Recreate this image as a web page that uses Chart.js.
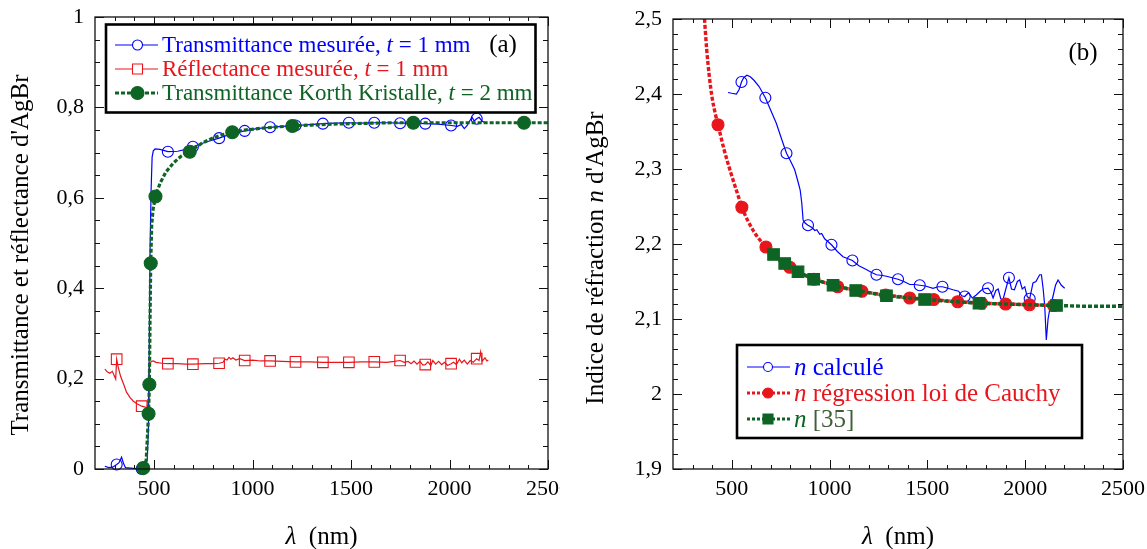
<!DOCTYPE html>
<html>
<head>
<meta charset="utf-8">
<script src="https://cdn.jsdelivr.net/npm/chart.js"></script>
<style>
  html, body { margin: 0; padding: 0; background: #fff; overflow: hidden; }
  canvas { position: absolute; top: 0; }
  #chartA { left: 0; }
  #chartB { left: 560px; }
</style>
</head>
<body>
<canvas id="chartA" width="560" height="549"></canvas>
<canvas id="chartB" width="587" height="549"></canvas>
<script>
// ---- panel (a) : transmittance / reflectance ----
const transX = [250,270,290,310,322,335,345,355,380,410,437,455,465,472,476,480,485,490,496,505,530,570,620,660,697,760,830,895,960,1020,1089,1150,1218,1290,1357,1420,1489,1550,1618,1680,1749,1810,1877,1940,2008,2040,2060,2075,2090,2105,2115,2125,2138,2150,2165,2180];
const transY = [0.006,0.003,0.004,0.010,0.014,0.026,0.012,0.003,0.002,0.001,0.000,0.004,0.02,0.10,0.30,0.50,0.62,0.69,0.704,0.708,0.707,0.702,0.703,0.707,0.713,0.723,0.732,0.742,0.748,0.753,0.756,0.758,0.760,0.762,0.764,0.765,0.766,0.765,0.766,0.766,0.765,0.765,0.764,0.763,0.760,0.758,0.762,0.753,0.760,0.772,0.778,0.770,0.775,0.778,0.770,0.766];

const reflX = [250,262,275,288,300,305,310,318,330,345,360,378,395,415,437,455,466,470,474,478,485,496,510,540,570,620,660,697,760,800,830,850,860,870,880,890,900,915,935,960,1000,1040,1089,1150,1218,1290,1357,1420,1489,1550,1618,1680,1720,1749,1770,1790,1805,1820,1835,1850,1865,1877,1890,1905,1915,1930,1945,1960,1975,1990,2008,2020,2035,2050,2062,2075,2090,2105,2120,2138,2150,2158,2165,2180,2190,2197];
const reflY = [0.221,0.215,0.212,0.216,0.204,0.199,0.243,0.225,0.205,0.188,0.170,0.158,0.150,0.144,0.139,0.137,0.136,0.150,0.210,0.232,0.238,0.239,0.236,0.234,0.233,0.233,0.232,0.232,0.233,0.233,0.234,0.236,0.243,0.241,0.247,0.243,0.246,0.241,0.244,0.240,0.241,0.239,0.239,0.238,0.237,0.237,0.236,0.236,0.236,0.237,0.237,0.236,0.238,0.240,0.236,0.238,0.233,0.239,0.232,0.238,0.230,0.231,0.237,0.229,0.240,0.232,0.238,0.231,0.236,0.229,0.233,0.236,0.231,0.243,0.235,0.241,0.232,0.240,0.236,0.244,0.240,0.259,0.238,0.246,0.239,0.241];
const measMarks = [310,437,570,697,830,960,1089,1218,1357,1489,1618,1749,1877,2008,2138];

const korthX = [445,460,472,476,480,483,488,495,507,530,560,600,640,681,740,800,850,897,960,1050,1130,1202,1300,1400,1500,1600,1700,1816,1950,2100,2250,2378,2500];
const korthY = [0.002,0.02,0.122,0.187,0.35,0.455,0.54,0.575,0.603,0.632,0.657,0.678,0.693,0.702,0.720,0.733,0.740,0.745,0.750,0.754,0.757,0.759,0.761,0.763,0.764,0.765,0.766,0.766,0.766,0.766,0.766,0.766,0.766];
const korthMarks = [445,472,476,483,507,681,897,1202,1816,2378];

// ---- panel (b) : refractive index ----
const calcX = [481,500,524,538,550,562,578,595,615,640,672,700,728,755,780,800,822,840,850,858,865,875,890,910,925,935,950,960,975,1010,1040,1069,1117,1150,1188,1215,1240,1270,1291,1320,1350,1380,1410,1435,1461,1490,1529,1555,1577,1605,1631,1660,1675,1691,1710,1730,1750,1770,1784,1810,1825,1836,1850,1862,1875,1887,1900,1917,1930,1945,1960,1972,1985,1998,2010,2023,2040,2055,2074,2083,2092,2100,2108,2117,2125,2142,2155,2168,2185,2202];
const calcY = [2.402,2.401,2.400,2.406,2.416,2.422,2.425,2.423,2.418,2.410,2.395,2.378,2.361,2.340,2.321,2.311,2.299,2.282,2.272,2.255,2.232,2.228,2.225,2.222,2.218,2.219,2.213,2.214,2.207,2.199,2.190,2.183,2.178,2.171,2.166,2.162,2.159,2.158,2.157,2.155,2.153,2.150,2.146,2.146,2.145,2.144,2.141,2.143,2.143,2.141,2.139,2.137,2.131,2.130,2.135,2.128,2.132,2.137,2.140,2.141,2.136,2.128,2.138,2.140,2.127,2.126,2.139,2.155,2.140,2.139,2.150,2.152,2.140,2.143,2.130,2.127,2.148,2.150,2.159,2.159,2.140,2.117,2.072,2.100,2.112,2.130,2.145,2.152,2.145,2.141];
const calcMarks = [550,672,780,890,1010,1117,1240,1350,1461,1577,1691,1810,1917,2023];

const cauchyX = [361,372,385,400,415,430,462,499,536,552,610,675,730,797,860,920,980,1042,1100,1165,1230,1287,1350,1410,1470,1532,1600,1655,1720,1777,1840,1900,1960,2022,2080,2145];
const cauchyY = [2.500,2.460,2.425,2.395,2.375,2.359,2.325,2.292,2.262,2.249,2.218,2.196,2.181,2.169,2.160,2.153,2.148,2.143,2.140,2.137,2.134,2.132,2.130,2.128,2.127,2.126,2.124,2.123,2.122,2.121,2.1205,2.120,2.1195,2.119,2.1185,2.118];
const cauchyMarks = [430,552,675,797,920,1042,1165,1287,1410,1532,1655,1777,1900,2022,2145];

const refX = [714,771,839,919,1018,1134,1291,1486,1764,2160,2300,2500];
const refY = [2.186,2.174,2.163,2.153,2.145,2.138,2.131,2.126,2.121,2.118,2.117,2.117];
const refMarks = [714,771,839,919,1018,1134,1291,1486,1764,2160];

// tick labels
const xTicks = [500, 1000, 1500, 2000, 2500];
const yTicksA = [0, 0.2, 0.4, 0.6, 0.8, 1];
const yTicksB = [1.9, 2.0, 2.1, 2.2, 2.3, 2.4, 2.5];

const FONT = '"Liberation Serif", "Times New Roman", serif';
const BLUE = '#0000ff', RED = 'rgb(232,22,28)', GREEN = 'rgb(14,100,36)';

function pts(xs, ys) { return xs.map((x, i) => ({x: x, y: ys[i]})); }
function marks(xs, list, r) { return c => list.includes(xs[c.dataIndex]) ? r : 0; }
function fmt(v) { return String(Math.round(v * 10) / 10).replace('.', ','); }

function rich(ctx, segs, x, y, size, align, color) {
  const f = s => (s[1] ? 'italic ' : '') + size + 'px ' + FONT;
  let w = 0;
  segs.forEach(s => { ctx.font = f(s); w += ctx.measureText(s[0]).width; });
  let cx = align === 'center' ? x - w / 2 : x;
  ctx.textAlign = 'left';
  ctx.textBaseline = 'middle';
  segs.forEach(s => {
    ctx.font = f(s);
    ctx.fillStyle = s[2] || color;
    ctx.fillText(s[0], cx, y);
    cx += ctx.measureText(s[0]).width;
  });
}

function marker(ctx, m, x, y, color) {
  ctx.save();
  ctx.setLineDash([]);
  ctx.strokeStyle = color; ctx.fillStyle = color; ctx.lineWidth = 1.1;
  ctx.beginPath();
  if (m.s === 'rect') ctx.rect(x - m.r, y - m.r, 2 * m.r, 2 * m.r);
  else ctx.arc(x, y, m.r, 0, Math.PI * 2);
  if (m.fill) ctx.fill(); else { ctx.fillStyle = '#fff'; ctx.fill(); }
  ctx.stroke();
  ctx.restore();
}

// inward ticks on all sides, frame, titles, legend box, panel tag
const framePlugin = {
  id: 'frame',
  afterDatasetsDraw(chart, args, o) {
    const ctx = chart.ctx, a = chart.chartArea, sx = chart.scales.x, sy = chart.scales.y;
    ctx.save();
    ctx.strokeStyle = '#111';
    ctx.lineWidth = 1;
    ctx.beginPath();
    const vt = (v, len) => {
      const p = Math.round(sx.getPixelForValue(v)) + 0.5;
      ctx.moveTo(p, a.bottom); ctx.lineTo(p, a.bottom - len);
      ctx.moveTo(p, a.top); ctx.lineTo(p, a.top + len);
    };
    const ht = (v, len) => {
      const p = Math.round(sy.getPixelForValue(v)) + 0.5;
      ctx.moveTo(a.left, p); ctx.lineTo(a.left + len, p);
      ctx.moveTo(a.right, p); ctx.lineTo(a.right - len, p);
    };
    const nx = Math.round((sx.max - sx.min) / o.xStep);
    for (let i = 1; i < nx; i++) vt(sx.min + i * o.xStep, 4);
    const ny = Math.round((sy.max - sy.min) / o.yStep);
    for (let i = 1; i < ny; i++) ht(sy.min + i * o.yStep, 5);
    xTicks.forEach(v => vt(v, 9));
    o.yMajor.forEach(v => ht(v, 9));
    ctx.stroke();
    ctx.lineWidth = 1.3;
    ctx.strokeRect(a.left, a.top, a.right - a.left, a.bottom - a.top);

    // axis titles
    rich(ctx, [['\u03bb', 1], ['  (nm)']], (a.left + a.right) / 2, o.xTitleY, 25, 'center', '#000');
    ctx.save();
    ctx.translate(o.yTitle.x, o.yTitle.y);
    ctx.rotate(-Math.PI / 2);
    rich(ctx, o.yTitle.segs, 0, 0, 25, 'center', '#000');
    ctx.restore();

    // legend
    const L = o.legend;
    ctx.fillStyle = '#fff';
    ctx.fillRect(L.box[0], L.box[1], L.box[2], L.box[3]);
    ctx.strokeStyle = '#000';
    ctx.lineWidth = 2.6;
    ctx.strokeRect(L.box[0], L.box[1], L.box[2], L.box[3]);
    L.items.forEach((it, i) => {
      const y = L.rows[i];
      ctx.save();
      ctx.strokeStyle = it.color;
      ctx.lineWidth = it.lw;
      ctx.setLineDash(it.dash || []);
      ctx.beginPath();
      ctx.moveTo(L.x0, y); ctx.lineTo(L.x1, y);
      ctx.stroke();
      ctx.restore();
      marker(ctx, it.mk, L.xm, y, it.color);
      rich(ctx, it.segs, L.xt, y + 1, L.size, 'left', it.color);
    });

    // panel tag
    ctx.fillStyle = '#000';
    ctx.font = '25px ' + FONT;
    ctx.textAlign = 'center';
    ctx.textBaseline = 'middle';
    ctx.fillText(o.tag.t, o.tag.x, o.tag.y);
    ctx.restore();
  }
};

function lineSet(xs, ys, list, st) {
  return Object.assign({
    data: pts(xs, ys),
    fill: false,
    tension: 0,
    clip: 12,
    pointRadius: marks(xs, list, st.r),
    pointHoverRadius: marks(xs, list, st.r),
    pointHitRadius: 0,
    pointBorderColor: st.borderColor,
    pointBorderWidth: 1.1,
    pointBackgroundColor: st.filled ? st.borderColor : 'rgba(255,255,255,0)'
  }, st);
}

function makeChart(id, cfg) {
  return new Chart(document.getElementById(id), {
    type: 'line',
    data: {datasets: cfg.datasets},
    options: {
      responsive: false,
      animation: false,
      events: [],
      layout: {padding: cfg.pad},
      plugins: {legend: {display: false}, tooltip: {enabled: false}, frame: cfg.frame},
      scales: {
        x: {
          type: 'linear', min: 200, max: 2500,
          grid: {display: false, drawTicks: false},
          border: {display: false},
          ticks: {font: {family: FONT, size: 22}, color: '#000', padding: 7, maxRotation: 0, minRotation: 0, autoSkip: false, callback: v => String(v)},
          afterBuildTicks: s => { s.ticks = xTicks.map(v => ({value: v})); },
          afterFit: s => { s.height = 80; s.paddingLeft = 0; s.paddingRight = 0; }
        },
        y: {
          type: 'linear', min: cfg.yMin, max: cfg.yMax,
          grid: {display: false, drawTicks: false},
          border: {display: false},
          ticks: {font: {family: FONT, size: 22}, color: '#000', padding: 11, callback: v => fmt(v)},
          afterBuildTicks: s => { s.ticks = cfg.yTicks.map(v => ({value: v})); },
          afterFit: s => { s.width = cfg.yWidth; s.paddingTop = 0; s.paddingBottom = 0; }
        }
      }
    },
    plugins: [framePlugin]
  });
}

makeChart('chartA', {
  yMin: 0, yMax: 1, yTicks: yTicksA, yWidth: 95,
  pad: {top: 17, right: 12, left: 0, bottom: 0},
  datasets: [
    lineSet(korthX, korthY, korthMarks, {borderColor: GREEN, borderWidth: 3.2, borderDash: [4, 2], pointStyle: 'circle', r: 6.5, filled: true, order: 0}),
    lineSet(transX, transY, measMarks, {borderColor: BLUE, borderWidth: 1.2, pointStyle: 'circle', r: 5.5, filled: false, order: 1}),
    lineSet(reflX, reflY, measMarks, {borderColor: RED, borderWidth: 1.2, pointStyle: 'rect', r: 7.5, filled: false, order: 2})
  ],
  frame: {
    xStep: 100, yStep: 0.05, yMajor: yTicksA, xTitleY: 537,
    yTitle: {x: 21, y: 255, segs: [["Transmittance et r\u00e9flectance d'AgBr"]]},
    tag: {t: '(a)', x: 503, y: 45},
    legend: {
      box: [106, 24.5, 429.5, 88], rows: [45, 69, 93], x0: 115, x1: 158, xm: 137.5, xt: 162, size: 23,
      items: [
        {segs: [['Transmittance mesur\u00e9e, '], ['t', 1], [' = 1 mm']], color: BLUE, lw: 1.2, mk: {s: 'circle', r: 5, fill: false}},
        {segs: [['R\u00e9flectance mesur\u00e9e, '], ['t', 1], [' = 1 mm']], color: RED, lw: 1.2, mk: {s: 'rect', r: 5, fill: false}},
        {segs: [['Transmittance Korth Kristalle, '], ['t', 1], [' = 2 mm']], color: GREEN, lw: 3, dash: [4, 2], mk: {s: 'circle', r: 6.5, fill: true}}
      ]
    }
  }
});

makeChart('chartB', {
  yMin: 1.9, yMax: 2.5, yTicks: yTicksB, yWidth: 113,
  pad: {top: 19, right: 24, left: 0, bottom: 0},
  datasets: [
    lineSet(refX, refY, refMarks, {borderColor: GREEN, borderWidth: 3.4, borderDash: [4, 2], pointStyle: 'rect', r: 8.2, filled: true, order: 0}),
    lineSet(cauchyX, cauchyY, cauchyMarks, {borderColor: RED, borderWidth: 3.4, borderDash: [4, 2], pointStyle: 'circle', r: 6, filled: true, order: 1, cubicInterpolationMode: 'monotone'}),
    lineSet(calcX, calcY, calcMarks, {borderColor: BLUE, borderWidth: 1.2, pointStyle: 'circle', r: 5.5, filled: false, order: 2})
  ],
  frame: {
    xStep: 100, yStep: 0.02, yMajor: yTicksB, xTitleY: 537,
    yTitle: {x: 36, y: 258, segs: [['Indice de r\u00e9fraction '], ['n', 1], [" d'AgBr"]]},
    tag: {t: '(b)', x: 523, y: 53},
    legend: {
      box: [177, 345, 345, 93], rows: [367, 393, 419], x0: 187, x1: 230, xm: 208, xt: 234, size: 25,
      items: [
        {segs: [['n', 1], [' calcul\u00e9']], color: BLUE, lw: 1.2, mk: {s: 'circle', r: 4.5, fill: false}},
        {segs: [['n', 1], [' r\u00e9gression loi de Cauchy']], color: RED, lw: 3, dash: [3, 2], mk: {s: 'circle', r: 5, fill: true}},
        {segs: [['n', 1], [' [35]', 0, 'rgb(62,95,56)']], color: GREEN, lw: 3, dash: [3, 2], mk: {s: 'rect', r: 5, fill: true}}
      ]
    }
  }
});
</script>
</body>
</html>
